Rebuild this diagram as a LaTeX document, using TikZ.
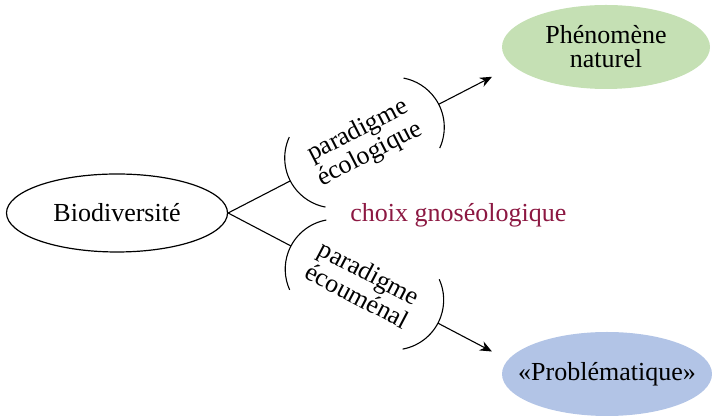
\documentclass[tikz,border=0pt]{standalone}
\usepackage{fontspec}
\setmainfont{Liberation Serif}
\usetikzlibrary{shapes.geometric,arrows.meta}

\definecolor{natgreen}{RGB}{197,224,180}
\definecolor{problue}{RGB}{178,196,230}
\definecolor{choixred}{RGB}{140,24,66}

\tikzset{
  txt/.style={font=\fontsize{13pt}{12pt}\selectfont, align=center, inner sep=0pt},
  slanted/.style={font=\fontsize{13pt}{13pt}\selectfont, align=center, inner sep=0pt},
  oval/.style={ellipse, txt},
  conn/.style={line width=0.55pt},
  bracket/.style={line width=0.55pt},
  arr/.style={conn, -{Stealth[length=6pt,width=5pt]}},
}

\begin{document}
\begin{tikzpicture}[x=0.5pt, y=0.5pt]
  \useasboundingbox (0,0) rectangle (712,416);

  % main nodes
  \node[oval, draw, line width=0.6pt, minimum width=110.5pt, minimum height=39pt]
    (bio) at (117,203) {Biodiversité};
  \node[oval, fill=natgreen, minimum width=104pt, minimum height=42pt]
    (nat) at (606,369) {Phénomène\\naturel};
  \node[oval, fill=problue, inner xsep=-8pt, minimum width=105pt, minimum height=42pt]
    (prob) at (607,42) {«Problématique»};
  \node[txt, anchor=base west, text=choixred] (choix) at (350,194)
    {choix gnoséologique};

  % upper branch: ecological paradigm
  \begin{scope}[shift={(bio.east)}, rotate=27.3]
    \coordinate (ua) at (70,0);
    \coordinate (ub) at (237,0);
    \coordinate (uc) at (297,0);
    \node[slanted, rotate=27.3] (eco) at (153,0) {paradigme\\écologique};
    \draw[bracket] (89.2,39.4) arc[start angle=128, end angle=232, radius=50];
    \draw[bracket] (217.8,-39.4) arc[start angle=-52, end angle=52, radius=50];
  \end{scope}

  % lower branch: ecumenal paradigm
  \begin{scope}[shift={(bio.east)}, rotate=-27.7]
    \coordinate (la) at (71,0);
    \coordinate (lb) at (237,0);
    \coordinate (lc) at (298,0);
    \node[slanted, rotate=-27.7] (ecu) at (153,0) {paradigme\\écouménal};
    \draw[bracket] (90.2,39.4) arc[start angle=128, end angle=232, radius=50];
    \draw[bracket] (217.8,-39.4) arc[start angle=-52, end angle=52, radius=50];
  \end{scope}

  % connectors
  \draw[conn] (bio.east) -- (ua);
  \draw[arr] (ub) -- (uc);
  \draw[conn] (bio.east) -- (la);
  \draw[arr] (lb) -- (lc);
\end{tikzpicture}
\end{document}
